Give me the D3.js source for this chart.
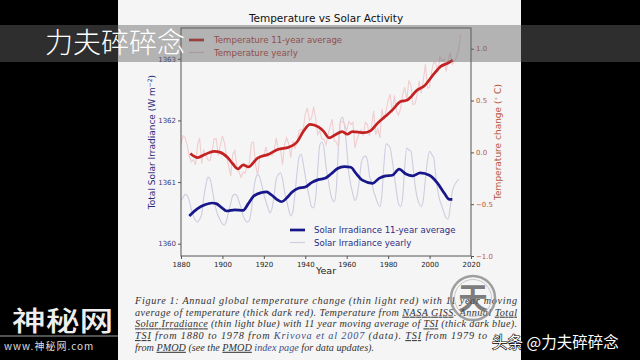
<!DOCTYPE html>
<html><head><meta charset="utf-8">
<script src="https://cdn.jsdelivr.net/npm/d3@7"></script>
<style>html,body{margin:0;padding:0;background:#000;}svg{display:block;}</style>
</head><body>
<script>
// ---- data ----
const xTicks = [1880,1900,1920,1940,1960,1980,2000,2020];
const tsiTicks = [1360,1361,1362,1363];
const tempTicks = [-1.0,-0.5,0.0,0.5,1.0];

const tsiYears = d3.range(1880,2015);
const tsiYearly = [1360.70,1360.75,1360.80,1360.78,1360.70,1360.55,1360.45,1360.38,1360.35,1360.40,
1360.48,1360.75,1360.95,1361.08,1361.05,1360.90,1360.70,1360.55,1360.45,1360.38,
1360.32,1360.30,1360.38,1360.52,1360.65,1360.78,1360.80,1360.78,1360.68,1360.58,
1360.45,1360.38,1360.35,1360.38,1360.55,1360.85,1361.05,1361.12,1361.08,1360.95,
1360.80,1360.68,1360.58,1360.50,1360.58,1360.80,1361.05,1361.12,1361.15,1361.05,
1360.85,1360.70,1360.55,1360.45,1360.52,1360.80,1361.15,1361.40,1361.45,1361.30,
1361.10,1360.90,1360.75,1360.60,1360.58,1360.75,1361.20,1361.60,1361.65,1361.55,
1361.25,1361.05,1360.85,1360.72,1360.68,1360.90,1361.55,1362.00,1362.05,1361.90,
1361.55,1361.15,1360.95,1360.80,1360.70,1360.78,1361.00,1361.30,1361.40,1361.42,
1361.35,1361.10,1361.00,1360.85,1360.75,1360.65,1360.60,1360.80,1361.30,1361.62,
1361.60,1361.55,1361.35,1361.10,1360.85,1360.65,1360.60,1360.75,1361.25,1361.55,
1361.52,1361.50,1361.25,1360.95,1360.75,1360.65,1360.60,1360.72,1361.05,1361.35,
1361.50,1361.45,1361.40,1361.10,1360.85,1360.70,1360.60,1360.50,1360.42,1360.40,
1360.60,1360.85,1360.95,1361.00,1361.05];

const tsiAvgYears = [1884,1888,1891.5,1895,1897,1899.5,1902,1906,1910,1912.5,1915,1919,1921.3,1923.7,1926.2,1928.6,1931,1933.4,1936.6,1940,1943,1946.3,1949.5,1952.4,1955.6,1958.8,1962,1964.5,1967.5,1972.5,1975.6,1978.8,1982,1985.3,1988.6,1991.8,1995.5,1999.9,2003.9,2007.1,2009.6,2011];
const tsiAvg = [1360.45,1360.57,1360.63,1360.66,1360.65,1360.59,1360.53,1360.55,1360.54,1360.65,1360.77,1360.83,1360.84,1360.79,1360.72,1360.68,1360.74,1360.83,1360.90,1360.92,1360.99,1361.04,1361.06,1361.13,1361.22,1361.25,1361.24,1361.14,1361.03,1360.98,1361.06,1361.10,1361.11,1361.21,1361.13,1361.10,1361.15,1361.11,1360.98,1360.82,1360.72,1360.72];

const tempYears = d3.range(1880,2016);
const tempYearly = [0.08,0.16,0.14,0.07,-0.04,-0.09,-0.07,-0.12,0.07,0.14,
-0.11,0.02,-0.03,-0.07,-0.08,0.01,0.13,0.13,-0.03,0.07,
0.16,0.09,-0.04,-0.13,-0.23,-0.02,0.02,-0.15,-0.19,-0.24,
-0.19,-0.20,-0.12,-0.10,0.09,0.10,-0.12,-0.22,-0.05,-0.03,
-0.03,0.05,-0.04,-0.02,-0.03,0.02,0.14,0.02,0.04,-0.12,
0.08,0.14,0.08,-0.05,0.11,0.04,0.09,0.21,0.22,0.22,
0.37,0.43,0.31,0.33,0.44,0.33,0.17,0.21,0.13,0.13,
0.07,0.17,0.25,0.32,0.11,0.10,0.05,0.29,0.30,0.27,
0.21,0.30,0.27,0.29,0.04,0.13,0.18,0.22,0.16,0.29,
0.27,0.16,0.25,0.40,0.17,0.23,0.14,0.42,0.31,0.40,
0.50,0.56,0.38,0.55,0.40,0.36,0.42,0.56,0.63,0.51,
0.69,0.65,0.46,0.47,0.56,0.69,0.57,0.70,0.85,0.62,
0.63,0.78,0.87,0.86,0.77,0.92,0.88,0.90,0.78,0.89,
0.96,0.85,0.88,0.92,0.99,1.14];

const tempAvgYears = [1884.5,1888,1891.5,1896,1899,1902.5,1905,1907.5,1910,1912.5,1917,1922,1927,1932,1936,1939,1942.3,1946.3,1949,1951.4,1954.5,1957.8,1960.3,1962.7,1968.3,1971.6,1974.8,1978.8,1982.1,1986,1989.3,1994,1997.4,2002.2,2005.4,2008.7,2011.2];
const tempAvg = [-0.01,-0.05,-0.02,0.01,0.0,-0.05,-0.11,-0.16,-0.12,-0.14,-0.055,-0.02,0.03,0.05,0.10,0.20,0.27,0.245,0.20,0.14,0.17,0.20,0.175,0.20,0.19,0.21,0.28,0.35,0.41,0.49,0.505,0.60,0.64,0.76,0.83,0.86,0.89];

const legendTop = ["Temperature 11-year average","Temperature yearly"];
const legendBottom = ["Solar Irradiance 11-year average","Solar Irradiance yearly"];

// ---- drawing ----
const W=640,H=360;
const svg = d3.select("body").append("svg").attr("width",W).attr("height",H);
svg.append("rect").attr("width",W).attr("height",H).attr("fill","#000");
svg.append("rect").attr("x",118).attr("y",0).attr("width",403).attr("height",H).attr("fill","#f5f5f5");

const x = d3.scaleLinear([1880,2020],[181,471]);
const yL = d3.scaleLinear([1359.8,1363.5],[256,28]);
const yR = d3.scaleLinear([-1,1.2],[256,28]);

svg.append("text").attr("x",326).attr("y",22).attr("text-anchor","middle")
  .attr("font-family","DejaVu Sans").attr("font-size",10.5).attr("fill","#111")
  .text("Temperature vs Solar Activity");

svg.append("clipPath").attr("id","c").append("rect")
  .attr("x",181).attr("y",28).attr("width",290).attr("height",228);
const g = svg.append("g").attr("clip-path","url(#c)");

const lineL = (xs)=> d3.line().x((d,i)=>x(xs[i])).y(d=>yL(d));
const lineR = (xs)=> d3.line().x((d,i)=>x(xs[i])).y(d=>yR(d));

g.append("path").datum(tsiYearly).attr("d",lineL(tsiYears).curve(d3.curveMonotoneX))
  .attr("fill","none").attr("stroke","#cdcde0").attr("stroke-width",1.1);
g.append("path").datum(tempYearly).attr("d",lineR(tempYears))
  .attr("fill","none").attr("stroke","#efcdd0").attr("stroke-width",1.1);
g.append("path").datum(tsiAvg).attr("d",lineL(tsiAvgYears).curve(d3.curveMonotoneX))
  .attr("fill","none").attr("stroke","#17168a").attr("stroke-width",2.7).attr("stroke-linejoin","round");
g.append("path").datum(tempAvg).attr("d",lineR(tempAvgYears).curve(d3.curveMonotoneX))
  .attr("fill","none").attr("stroke","#c42222").attr("stroke-width",2.7).attr("stroke-linejoin","round");

// frame
svg.append("rect").attr("x",181).attr("y",28).attr("width",290).attr("height",228)
  .attr("fill","none").attr("stroke","#555").attr("stroke-width",1);

function styleAxis(sel,color){
  sel.select(".domain").remove();
  sel.selectAll("line").attr("stroke","#555");
  sel.selectAll("text").attr("font-family","DejaVu Sans").attr("font-size",7).attr("fill",color);
}
svg.append("g").attr("transform","translate(0,256)")
  .call(d3.axisBottom(x).tickValues(xTicks).tickFormat(d3.format("d")).tickSize(3).tickPadding(3))
  .call(s=>styleAxis(s,"#222"));
svg.append("g").attr("transform","translate(181,0)")
  .call(d3.axisLeft(yL).tickValues(tsiTicks).tickFormat(d3.format("d")).tickSize(3).tickPadding(2))
  .call(s=>styleAxis(s,"#3a3a7c"));
svg.append("g").attr("transform","translate(471,0)")
  .call(d3.axisRight(yR).tickValues(tempTicks).tickFormat(d3.format(".1f")).tickSize(3).tickPadding(2))
  .call(s=>styleAxis(s,"#c0563f"));

svg.append("text").attr("x",326).attr("y",274).attr("text-anchor","middle")
  .attr("font-family","DejaVu Sans").attr("font-size",9.5).attr("fill","#222").text("Year");
svg.append("text").attr("transform","translate(155,142) rotate(-90)").attr("text-anchor","middle")
  .attr("font-family","DejaVu Sans").attr("font-size",9).attr("fill","#2c2c7a")
  .html('Total Solar Irradiance (W m<tspan dy="-3" font-size="6">−2</tspan><tspan dy="3">)</tspan>');
svg.append("text").attr("transform","translate(501,142) rotate(-90)").attr("text-anchor","middle")
  .attr("font-family","DejaVu Sans").attr("font-size",9).attr("fill","#b8553c")
  .html('Temperature change (<tspan dy="-3" font-size="6">∘</tspan><tspan dy="3"> C)</tspan>');

// legends
const legT = svg.append("g");
legT.append("line").attr("x1",189).attr("x2",204).attr("y1",40).attr("y2",40).attr("stroke","#c42222").attr("stroke-width",2.7);
legT.append("line").attr("x1",189).attr("x2",204).attr("y1",52.5).attr("y2",52.5).attr("stroke","#e6c4c8").attr("stroke-width",1.1);
legT.selectAll("text").data(legendTop).join("text").attr("x",214).attr("y",(d,i)=>43+i*12.5)
  .attr("font-family","DejaVu Sans").attr("font-size",8.6).attr("fill","#b83a35").text(d=>d);
const legB = svg.append("g");
legB.append("line").attr("x1",290).attr("x2",305).attr("y1",230).attr("y2",230).attr("stroke","#17168a").attr("stroke-width",2.7);
legB.append("line").attr("x1",290).attr("x2",305).attr("y1",242.5).attr("y2",242.5).attr("stroke","#cdcde0").attr("stroke-width",1.1);
legB.selectAll("text").data(legendBottom).join("text").attr("x",314).attr("y",(d,i)=>233+i*12.5)
  .attr("font-family","DejaVu Sans").attr("font-size",8.6).attr("fill","#2c2c86").text(d=>d);

// caption
const cap = [
 {y:304, len:382, parts:[["Figure 1: Annual global temperature change (thin light red) with 11 year moving",0]]},
 {y:315.7, len:382, parts:[["average of temperature (thick dark red). Temperature from ",0],["NASA GISS",1],[". Annual ",0],["Total",1]]},
 {y:327.4, len:382, parts:[["Solar Irradiance",1],[" (thin light blue) with 11 year moving average of ",0],["TSI",1],[" (thick dark blue).",0]]},
 {y:339.1, len:352, parts:[["TSI",1],[" from 1880 to 1978 from ",0],["Krivova et al 2007",2],[" (data). ",0],["TSI",1],[" from 1979 to",0]]},
 {y:350.8, len:0, parts:[["from ",0],["PMOD",1],[" (see the ",0],["PMOD",1],[" index page",2],[" for data updates).",0]]}
];
cap.forEach(l=>{
  const t = svg.append("text").attr("x",135).attr("y",l.y)
    .attr("font-family","Liberation Serif").attr("font-style","italic").attr("font-size",10.2).attr("fill","#333");
  if(l.len) t.attr("textLength",l.len).attr("lengthAdjust","spacing");
  l.parts.forEach(p=>{
    const s=t.append("tspan").text(p[0]);
    if(p[1]===1) s.attr("text-decoration","underline");
    if(p[1]===2) s.attr("fill","#3b4f8a");
  });
});

// badge watermark
svg.append("circle").attr("cx",473).attr("cy",298).attr("r",22).attr("fill","none").attr("stroke","#8a8a8a").attr("stroke-width",2.5).attr("opacity",0.8);
svg.append("circle").attr("cx",473).attr("cy",298).attr("r",18.5).attr("fill","none").attr("stroke","#bbb").attr("stroke-width",1).attr("opacity",0.8);
svg.append("text").attr("x",473).attr("y",309).attr("text-anchor","middle").attr("font-family","Noto Sans CJK SC")
  .attr("font-size",30).attr("font-weight",700).attr("fill","#555").attr("opacity",0.75).text("天");

// translucent band
svg.append("rect").attr("x",0).attr("y",25).attr("width",W).attr("height",37).attr("fill","rgb(100,100,100)").attr("opacity",0.46);
svg.append("text").attr("x",45).attr("y",53).attr("font-family","Noto Sans CJK SC").attr("font-weight",300)
  .attr("font-size",28).attr("fill","#fff").text("力夫碎碎念");

// bottom-left watermark
svg.append("text").attr("transform","translate(12,331) scale(1.25,1)").attr("font-family","Noto Sans CJK SC").attr("font-weight",500)
  .attr("font-size",27).attr("fill","#eee").text("神秘网");
svg.append("line").attr("x1",0).attr("x2",118).attr("y1",336).attr("y2",336).attr("stroke","#ccc").attr("stroke-width",0.8);
svg.append("text").attr("x",4).attr("y",350).attr("font-family","Noto Sans CJK SC").attr("font-size",10)
  .attr("fill","#ddd").attr("letter-spacing",1).text("www.神秘网.com");

// bottom-right watermark
svg.append("text").attr("x",492).attr("y",348).attr("font-family","Noto Sans CJK SC").attr("font-size",15.5)
  .attr("fill","#fff").attr("stroke","#000").attr("stroke-width",1.2).attr("paint-order","stroke").text("头条 @力夫碎碎念");
</script>
</body></html>
